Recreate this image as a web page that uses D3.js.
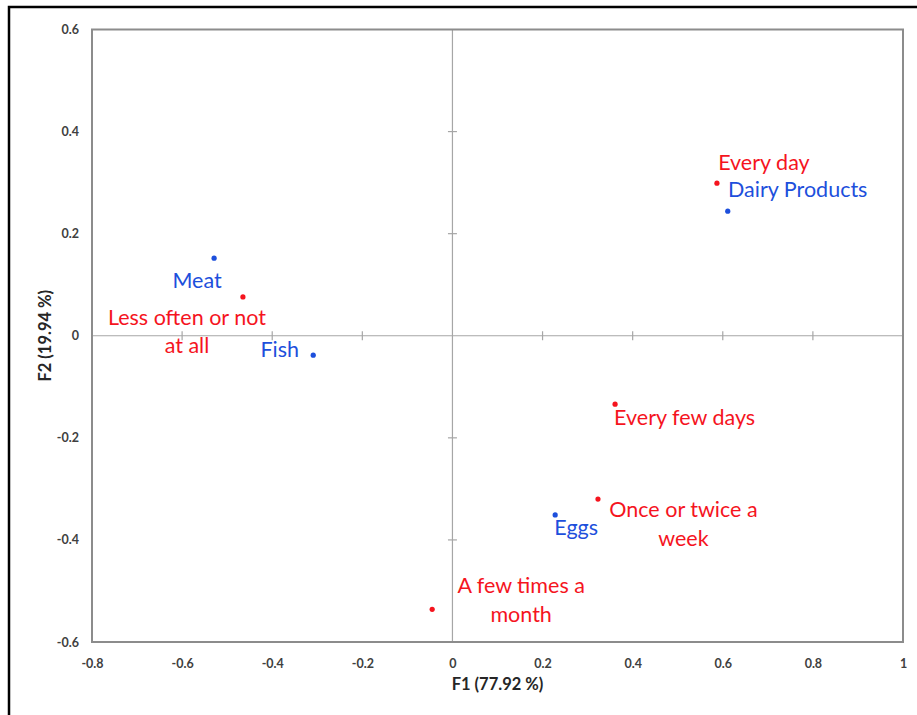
<!DOCTYPE html>
<html>
<head>
<meta charset="utf-8">
<script src="https://cdn.jsdelivr.net/npm/d3@7"></script>
<style>
  html, body { margin: 0; padding: 0; background: #fff; }
  svg { display: block; }
</style>
</head>
<body>
<svg id="chart" width="917" height="715"></svg>
<script>
// Row points (food groups), blue
const rowNames = ["Dairy Products", "Meat", "Fish", "Eggs"];
const rowF1 = [0.611, -0.529, -0.309, 0.228];
const rowF2 = [0.244, 0.152, -0.038, -0.351];

// Column points (consumption frequency), red
const colNames = ["Every day", "Every few days", "Once or twice a week", "A few times a month", "Less often or not at all"];
const colF1 = [0.587, 0.361, 0.323, -0.045, -0.465];
const colF2 = [0.299, -0.134, -0.320, -0.536, 0.076];

// Axis tick values
const xTicks = [-0.8, -0.6, -0.4, -0.2, 0, 0.2, 0.4, 0.6, 0.8, 1];
const yTicks = [-0.6, -0.4, -0.2, 0, 0.2, 0.4, 0.6];

// Label layout: line breaks and offset of the label centre/baseline from its point
const rowLabelLayout = [
  { lines: ["Dairy Products"], dx: 70, dy: -14 },
  { lines: ["Meat"], dx: -17, dy: 30 },
  { lines: ["Fish"], dx: -33.5, dy: 2 },
  { lines: ["Eggs"], dx: 21, dy: 20 }
];
const colLabelLayout = [
  { lines: ["Every day"], dx: 47, dy: -13 },
  { lines: ["Every few days"], dx: 69.5, dy: 21 },
  { lines: ["Once or twice a", "week"], dx: 85.5, dy: 18 },
  { lines: ["A few times a", "month"], dx: 89, dy: -16 },
  { lines: ["Less often or not", "at all"], dx: -56, dy: 28 }
];

const RED = "#f5141e";
const BLUE = "#1d4fdc";
const FONT = "Lato, 'Open Sans', sans-serif";

const svg = d3.select("#chart");

const plot = { left: 92, right: 903, top: 29.5, bottom: 642 };
const x = d3.scaleLinear().domain([-0.8, 1]).range([plot.left, plot.right]);
const y = d3.scaleLinear().domain([-0.6, 0.6]).range([plot.bottom, plot.top]);

// tick text: plain hyphen for negatives, no trailing zeros
const fmtTick = d => String(+d.toFixed(1));

// outer border (only top and left edges fall inside the view)
svg.append("rect")
  .attr("x", 9).attr("y", 7).attr("width", 1200).attr("height", 1200)
  .attr("fill", "none").attr("stroke", "#000").attr("stroke-width", 2.5);

// zero lines
svg.append("line")
  .attr("x1", x(0)).attr("x2", x(0)).attr("y1", plot.top).attr("y2", plot.bottom)
  .attr("stroke", "#a6a6a6").attr("stroke-width", 1.2);
svg.append("line")
  .attr("x1", plot.left).attr("x2", plot.right).attr("y1", y(0)).attr("y2", y(0))
  .attr("stroke", "#a6a6a6").attr("stroke-width", 1.2);

// small crossing ticks on the zero lines
const tickLen = 4.5;
svg.append("g").selectAll("line")
  .data(xTicks.filter(d => d > -0.8 && d < 1 && d !== 0))
  .join("line")
  .attr("x1", d => x(d)).attr("x2", d => x(d))
  .attr("y1", y(0) - tickLen).attr("y2", y(0) + tickLen)
  .attr("stroke", "#a6a6a6").attr("stroke-width", 1.2);
svg.append("g").selectAll("line")
  .data(yTicks.filter(d => d > -0.6 && d < 0.6 && d !== 0))
  .join("line")
  .attr("y1", d => y(d)).attr("y2", d => y(d))
  .attr("x1", x(0) - tickLen).attr("x2", x(0) + tickLen)
  .attr("stroke", "#a6a6a6").attr("stroke-width", 1.2);

// plot frame
svg.append("rect")
  .attr("x", plot.left).attr("y", plot.top)
  .attr("width", plot.right - plot.left).attr("height", plot.bottom - plot.top)
  .attr("fill", "none").attr("stroke", "#8c8c8c").attr("stroke-width", 2);

// tick labels via d3 axes (no tick lines)
const xAxis = d3.axisBottom(x).tickValues(xTicks).tickSize(0).tickPadding(17).tickFormat(fmtTick);
const gx = svg.append("g").attr("transform", `translate(0,${plot.bottom})`).call(xAxis);
gx.select(".domain").remove();
gx.selectAll("text").attr("font-family", FONT).attr("font-size", 12.5)
  .attr("font-weight", 700).attr("fill", "#404040");

const yAxis = d3.axisLeft(y).tickValues(yTicks).tickSize(0).tickPadding(13).tickFormat(fmtTick);
const gy = svg.append("g").attr("transform", `translate(${plot.left},0)`).call(yAxis);
gy.select(".domain").remove();
gy.selectAll("text").attr("font-family", FONT).attr("font-size", 12.5)
  .attr("font-weight", 700).attr("fill", "#404040");

// axis titles
svg.append("text")
  .attr("x", (plot.left + plot.right) / 2).attr("y", 690)
  .attr("text-anchor", "middle")
  .attr("font-family", FONT).attr("font-size", 16.5).attr("font-weight", 700).attr("fill", "#262626")
  .text("F1 (77.92 %)");
svg.append("text")
  .attr("transform", `translate(51,${(plot.top + plot.bottom) / 2}) rotate(-90)`)
  .attr("text-anchor", "middle")
  .attr("font-family", FONT).attr("font-size", 16.5).attr("font-weight", 700).attr("fill", "#262626")
  .text("F2 (19.94 %)");

// points and labels
function drawSet(names, f1, f2, layout, color) {
  const data = names.map((n, i) => ({ name: n, f1: f1[i], f2: f2[i], lay: layout[i] }));
  const g = svg.append("g");
  g.selectAll("circle").data(data).join("circle")
    .attr("cx", d => x(d.f1)).attr("cy", d => y(d.f2))
    .attr("r", 2.6).attr("fill", color);
  const t = g.selectAll("text").data(data).join("text")
    .attr("x", d => x(d.f1) + d.lay.dx)
    .attr("y", d => y(d.f2) + d.lay.dy)
    .attr("text-anchor", "middle")
    .attr("font-family", FONT).attr("font-size", 21.5).attr("fill", color);
  t.each(function (d) {
    const el = d3.select(this);
    d.lay.lines.forEach((line, k) => {
      el.append("tspan")
        .attr("x", x(d.f1) + d.lay.dx)
        .attr("dy", k === 0 ? 0 : 28.5)
        .text(line);
    });
  });
}

drawSet(colNames, colF1, colF2, colLabelLayout, RED);
drawSet(rowNames, rowF1, rowF2, rowLabelLayout, BLUE);
</script>
</body>
</html>
